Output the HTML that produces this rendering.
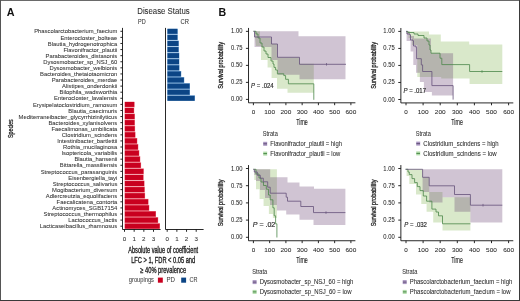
<!DOCTYPE html>
<html><head><meta charset="utf-8"><style>
html,body{margin:0;padding:0;background:#fff;}
body{width:520px;height:301px;overflow:hidden;position:relative;}
svg{display:block;font-family:"Liberation Sans", sans-serif;filter:blur(0.25px);}
.b{position:absolute;}
</style></head><body>
<svg width="520" height="301" viewBox="0 0 520 301">
<rect x="0" y="0" width="520" height="301" fill="#fff"/>
<text x="6.7" y="15.6" font-size="10.8" fill="#111" font-weight="bold">A</text>
<text x="163.5" y="13.6" font-size="8.4" fill="#2a2a2a" text-anchor="middle" textLength="52.5" lengthAdjust="spacingAndGlyphs" stroke="#2a2a2a" stroke-width="0.06">Disease Status</text>
<text x="141.8" y="24.0" font-size="6.3" fill="#333" text-anchor="middle" textLength="7.6" lengthAdjust="spacingAndGlyphs" stroke="#333" stroke-width="0.06">PD</text>
<text x="184.7" y="24.0" font-size="6.3" fill="#333" text-anchor="middle" textLength="8.4" lengthAdjust="spacingAndGlyphs" stroke="#333" stroke-width="0.06">CR</text>
<text x="117.3" y="33.45" font-size="6.2" fill="#333" stroke="#333" stroke-width="0.06" text-anchor="end" textLength="83.11" lengthAdjust="spacingAndGlyphs">Phascolarctobacterium_faecium</text>
<line x1="120.4" y1="31.30" x2="122.5" y2="31.30" stroke="#111" stroke-width="0.9"/>
<text x="117.3" y="39.54" font-size="6.2" fill="#333" stroke="#333" stroke-width="0.06" text-anchor="end" textLength="56.82" lengthAdjust="spacingAndGlyphs">Enterocloster_bolteae</text>
<line x1="120.4" y1="37.39" x2="122.5" y2="37.39" stroke="#111" stroke-width="0.9"/>
<text x="117.3" y="45.63" font-size="6.2" fill="#333" stroke="#333" stroke-width="0.06" text-anchor="end" textLength="69.49" lengthAdjust="spacingAndGlyphs">Blautia_hydrogenotrophica</text>
<line x1="120.4" y1="43.48" x2="122.5" y2="43.48" stroke="#111" stroke-width="0.9"/>
<text x="117.3" y="51.72" font-size="6.2" fill="#333" stroke="#333" stroke-width="0.06" text-anchor="end" textLength="53.89" lengthAdjust="spacingAndGlyphs">Flavonifractor_plautii</text>
<line x1="120.4" y1="49.57" x2="122.5" y2="49.57" stroke="#111" stroke-width="0.9"/>
<text x="117.3" y="57.81" font-size="6.2" fill="#333" stroke="#333" stroke-width="0.06" text-anchor="end" textLength="71.76" lengthAdjust="spacingAndGlyphs">Parabacteroides_distasonis</text>
<line x1="120.4" y1="55.66" x2="122.5" y2="55.66" stroke="#111" stroke-width="0.9"/>
<text x="117.3" y="63.90" font-size="6.2" fill="#333" stroke="#333" stroke-width="0.06" text-anchor="end" textLength="74.02" lengthAdjust="spacingAndGlyphs">Dysosmobacter_sp_NSJ_60</text>
<line x1="120.4" y1="61.75" x2="122.5" y2="61.75" stroke="#111" stroke-width="0.9"/>
<text x="117.3" y="69.99" font-size="6.2" fill="#333" stroke="#333" stroke-width="0.06" text-anchor="end" textLength="67.85" lengthAdjust="spacingAndGlyphs">Dysosmobacter_welbionis</text>
<line x1="120.4" y1="67.84" x2="122.5" y2="67.84" stroke="#111" stroke-width="0.9"/>
<text x="117.3" y="76.08" font-size="6.2" fill="#333" stroke="#333" stroke-width="0.06" text-anchor="end" textLength="77.28" lengthAdjust="spacingAndGlyphs">Bacteroides_thetaiotaomicron</text>
<line x1="120.4" y1="73.93" x2="122.5" y2="73.93" stroke="#111" stroke-width="0.9"/>
<text x="117.3" y="82.17" font-size="6.2" fill="#333" stroke="#333" stroke-width="0.06" text-anchor="end" textLength="65.59" lengthAdjust="spacingAndGlyphs">Parabacteroides_merdae</text>
<line x1="120.4" y1="80.02" x2="122.5" y2="80.02" stroke="#111" stroke-width="0.9"/>
<text x="117.3" y="88.26" font-size="6.2" fill="#333" stroke="#333" stroke-width="0.06" text-anchor="end" textLength="55.20" lengthAdjust="spacingAndGlyphs">Alistipes_onderdonkii</text>
<line x1="120.4" y1="86.11" x2="122.5" y2="86.11" stroke="#111" stroke-width="0.9"/>
<text x="117.3" y="94.35" font-size="6.2" fill="#333" stroke="#333" stroke-width="0.06" text-anchor="end" textLength="57.79" lengthAdjust="spacingAndGlyphs">Bilophila_wadsworthia</text>
<line x1="120.4" y1="92.20" x2="122.5" y2="92.20" stroke="#111" stroke-width="0.9"/>
<text x="117.3" y="100.44" font-size="6.2" fill="#333" stroke="#333" stroke-width="0.06" text-anchor="end" textLength="63.31" lengthAdjust="spacingAndGlyphs">Enterocloster_lavalensis</text>
<line x1="120.4" y1="98.29" x2="122.5" y2="98.29" stroke="#111" stroke-width="0.9"/>
<text x="117.3" y="106.53" font-size="6.2" fill="#333" stroke="#333" stroke-width="0.06" text-anchor="end" textLength="84.40" lengthAdjust="spacingAndGlyphs">Erysipelatoclostridium_ramosum</text>
<line x1="120.4" y1="104.38" x2="122.5" y2="104.38" stroke="#111" stroke-width="0.9"/>
<text x="117.3" y="112.62" font-size="6.2" fill="#333" stroke="#333" stroke-width="0.06" text-anchor="end" textLength="49.02" lengthAdjust="spacingAndGlyphs">Blautia_caecimuris</text>
<line x1="120.4" y1="110.47" x2="122.5" y2="110.47" stroke="#111" stroke-width="0.9"/>
<text x="117.3" y="118.71" font-size="6.2" fill="#333" stroke="#333" stroke-width="0.06" text-anchor="end" textLength="98.68" lengthAdjust="spacingAndGlyphs">Mediterraneibacter_glycyrrhizinilyticus</text>
<line x1="120.4" y1="116.56" x2="122.5" y2="116.56" stroke="#111" stroke-width="0.9"/>
<text x="117.3" y="124.80" font-size="6.2" fill="#333" stroke="#333" stroke-width="0.06" text-anchor="end" textLength="68.83" lengthAdjust="spacingAndGlyphs">Bacteroides_xylanisolvens</text>
<line x1="120.4" y1="122.65" x2="122.5" y2="122.65" stroke="#111" stroke-width="0.9"/>
<text x="117.3" y="130.89" font-size="6.2" fill="#333" stroke="#333" stroke-width="0.06" text-anchor="end" textLength="65.91" lengthAdjust="spacingAndGlyphs">Faecalimonas_umbilicata</text>
<line x1="120.4" y1="128.74" x2="122.5" y2="128.74" stroke="#111" stroke-width="0.9"/>
<text x="117.3" y="136.98" font-size="6.2" fill="#333" stroke="#333" stroke-width="0.06" text-anchor="end" textLength="55.51" lengthAdjust="spacingAndGlyphs">Clostridium_scindens</text>
<line x1="120.4" y1="134.83" x2="122.5" y2="134.83" stroke="#111" stroke-width="0.9"/>
<text x="117.3" y="143.07" font-size="6.2" fill="#333" stroke="#333" stroke-width="0.06" text-anchor="end" textLength="60.07" lengthAdjust="spacingAndGlyphs">Intestinibacter_bartlettii</text>
<line x1="120.4" y1="140.92" x2="122.5" y2="140.92" stroke="#111" stroke-width="0.9"/>
<text x="117.3" y="149.16" font-size="6.2" fill="#333" stroke="#333" stroke-width="0.06" text-anchor="end" textLength="54.22" lengthAdjust="spacingAndGlyphs">Rothia_mucilaginosa</text>
<line x1="120.4" y1="147.01" x2="122.5" y2="147.01" stroke="#111" stroke-width="0.9"/>
<text x="117.3" y="155.25" font-size="6.2" fill="#333" stroke="#333" stroke-width="0.06" text-anchor="end" textLength="55.84" lengthAdjust="spacingAndGlyphs">Isoptericola_variabilis</text>
<line x1="120.4" y1="153.10" x2="122.5" y2="153.10" stroke="#111" stroke-width="0.9"/>
<text x="117.3" y="161.34" font-size="6.2" fill="#333" stroke="#333" stroke-width="0.06" text-anchor="end" textLength="42.87" lengthAdjust="spacingAndGlyphs">Blautia_hansenii</text>
<line x1="120.4" y1="159.19" x2="122.5" y2="159.19" stroke="#111" stroke-width="0.9"/>
<text x="117.3" y="167.43" font-size="6.2" fill="#333" stroke="#333" stroke-width="0.06" text-anchor="end" textLength="57.46" lengthAdjust="spacingAndGlyphs">Bittarella_massiliensis</text>
<line x1="120.4" y1="165.28" x2="122.5" y2="165.28" stroke="#111" stroke-width="0.9"/>
<text x="117.3" y="173.52" font-size="6.2" fill="#333" stroke="#333" stroke-width="0.06" text-anchor="end" textLength="76.63" lengthAdjust="spacingAndGlyphs">Streptococcus_parasanguinis</text>
<line x1="120.4" y1="171.37" x2="122.5" y2="171.37" stroke="#111" stroke-width="0.9"/>
<text x="117.3" y="179.61" font-size="6.2" fill="#333" stroke="#333" stroke-width="0.06" text-anchor="end" textLength="49.03" lengthAdjust="spacingAndGlyphs">Eisenbergiella_tayi</text>
<line x1="120.4" y1="177.46" x2="122.5" y2="177.46" stroke="#111" stroke-width="0.9"/>
<text x="117.3" y="185.70" font-size="6.2" fill="#333" stroke="#333" stroke-width="0.06" text-anchor="end" textLength="64.61" lengthAdjust="spacingAndGlyphs">Streptococcus_salivarius</text>
<line x1="120.4" y1="183.55" x2="122.5" y2="183.55" stroke="#111" stroke-width="0.9"/>
<text x="117.3" y="191.79" font-size="6.2" fill="#333" stroke="#333" stroke-width="0.06" text-anchor="end" textLength="65.25" lengthAdjust="spacingAndGlyphs">Mogibacterium_diversum</text>
<line x1="120.4" y1="189.64" x2="122.5" y2="189.64" stroke="#111" stroke-width="0.9"/>
<text x="117.3" y="197.88" font-size="6.2" fill="#333" stroke="#333" stroke-width="0.06" text-anchor="end" textLength="71.43" lengthAdjust="spacingAndGlyphs">Adlercreutzia_equolifaciens</text>
<line x1="120.4" y1="195.73" x2="122.5" y2="195.73" stroke="#111" stroke-width="0.9"/>
<text x="117.3" y="203.97" font-size="6.2" fill="#333" stroke="#333" stroke-width="0.06" text-anchor="end" textLength="60.72" lengthAdjust="spacingAndGlyphs">Faecalicatena_contorta</text>
<line x1="120.4" y1="201.82" x2="122.5" y2="201.82" stroke="#111" stroke-width="0.9"/>
<text x="117.3" y="210.06" font-size="6.2" fill="#333" stroke="#333" stroke-width="0.06" text-anchor="end" textLength="64.94" lengthAdjust="spacingAndGlyphs">Actinomyces_SGB17154</text>
<line x1="120.4" y1="207.91" x2="122.5" y2="207.91" stroke="#111" stroke-width="0.9"/>
<text x="117.3" y="216.15" font-size="6.2" fill="#333" stroke="#333" stroke-width="0.06" text-anchor="end" textLength="73.70" lengthAdjust="spacingAndGlyphs">Streptococcus_thermophilus</text>
<line x1="120.4" y1="214.00" x2="122.5" y2="214.00" stroke="#111" stroke-width="0.9"/>
<text x="117.3" y="222.24" font-size="6.2" fill="#333" stroke="#333" stroke-width="0.06" text-anchor="end" textLength="49.03" lengthAdjust="spacingAndGlyphs">Lactococcus_lactis</text>
<line x1="120.4" y1="220.09" x2="122.5" y2="220.09" stroke="#111" stroke-width="0.9"/>
<text x="117.3" y="228.33" font-size="6.2" fill="#333" stroke="#333" stroke-width="0.06" text-anchor="end" textLength="77.60" lengthAdjust="spacingAndGlyphs">Lacticaseibacillus_rhamnosus</text>
<line x1="120.4" y1="226.18" x2="122.5" y2="226.18" stroke="#111" stroke-width="0.9"/>
<rect x="167.2" y="28.80" width="10.60" height="5.45" fill="#7eaedb"/>
<rect x="167.5" y="28.80" width="9.90" height="5.0" fill="#0c4585"/>
<rect x="167.2" y="34.44" width="10.60" height="5.90" fill="#7eaedb"/>
<rect x="167.5" y="34.89" width="9.90" height="5.0" fill="#0c4585"/>
<rect x="167.2" y="40.53" width="11.70" height="5.90" fill="#7eaedb"/>
<rect x="167.5" y="40.98" width="11.00" height="5.0" fill="#0c4585"/>
<rect x="167.2" y="46.62" width="11.70" height="5.90" fill="#7eaedb"/>
<rect x="167.5" y="47.07" width="11.00" height="5.0" fill="#0c4585"/>
<rect x="167.2" y="52.71" width="12.20" height="5.90" fill="#7eaedb"/>
<rect x="167.5" y="53.16" width="11.50" height="5.0" fill="#0c4585"/>
<rect x="167.2" y="58.80" width="12.20" height="5.90" fill="#7eaedb"/>
<rect x="167.5" y="59.25" width="11.50" height="5.0" fill="#0c4585"/>
<rect x="167.2" y="64.89" width="12.30" height="5.90" fill="#7eaedb"/>
<rect x="167.5" y="65.34" width="11.60" height="5.0" fill="#0c4585"/>
<rect x="167.2" y="70.98" width="14.10" height="5.90" fill="#7eaedb"/>
<rect x="167.5" y="71.43" width="13.40" height="5.0" fill="#0c4585"/>
<rect x="167.2" y="77.07" width="17.10" height="5.90" fill="#7eaedb"/>
<rect x="167.5" y="77.52" width="16.40" height="5.0" fill="#0c4585"/>
<rect x="167.2" y="83.16" width="22.80" height="5.90" fill="#7eaedb"/>
<rect x="167.5" y="83.61" width="22.10" height="5.0" fill="#0c4585"/>
<rect x="167.2" y="89.25" width="22.80" height="5.90" fill="#7eaedb"/>
<rect x="167.5" y="89.70" width="22.10" height="5.0" fill="#0c4585"/>
<rect x="167.2" y="95.34" width="27.80" height="5.45" fill="#7eaedb"/>
<rect x="167.5" y="95.79" width="27.10" height="5.0" fill="#0c4585"/>
<rect x="124.6" y="101.88" width="10.00" height="5.45" fill="#f07c8a"/>
<rect x="124.9" y="101.88" width="9.30" height="5.0" fill="#c9001f"/>
<rect x="124.6" y="107.52" width="9.60" height="5.90" fill="#f07c8a"/>
<rect x="124.9" y="107.97" width="8.90" height="5.0" fill="#c9001f"/>
<rect x="124.6" y="113.61" width="10.30" height="5.90" fill="#f07c8a"/>
<rect x="124.9" y="114.06" width="9.60" height="5.0" fill="#c9001f"/>
<rect x="124.6" y="119.70" width="10.30" height="5.90" fill="#f07c8a"/>
<rect x="124.9" y="120.15" width="9.60" height="5.0" fill="#c9001f"/>
<rect x="124.6" y="125.79" width="10.50" height="5.90" fill="#f07c8a"/>
<rect x="124.9" y="126.24" width="9.80" height="5.0" fill="#c9001f"/>
<rect x="124.6" y="131.88" width="10.90" height="5.90" fill="#f07c8a"/>
<rect x="124.9" y="132.33" width="10.20" height="5.0" fill="#c9001f"/>
<rect x="124.6" y="137.97" width="12.70" height="5.90" fill="#f07c8a"/>
<rect x="124.9" y="138.42" width="12.00" height="5.0" fill="#c9001f"/>
<rect x="124.6" y="144.06" width="13.70" height="5.90" fill="#f07c8a"/>
<rect x="124.9" y="144.51" width="13.00" height="5.0" fill="#c9001f"/>
<rect x="124.6" y="150.15" width="14.70" height="5.90" fill="#f07c8a"/>
<rect x="124.9" y="150.60" width="14.00" height="5.0" fill="#c9001f"/>
<rect x="124.6" y="156.24" width="15.70" height="5.90" fill="#f07c8a"/>
<rect x="124.9" y="156.69" width="15.00" height="5.0" fill="#c9001f"/>
<rect x="124.6" y="162.33" width="16.50" height="5.90" fill="#f07c8a"/>
<rect x="124.9" y="162.78" width="15.80" height="5.0" fill="#c9001f"/>
<rect x="124.6" y="168.42" width="19.20" height="5.90" fill="#f07c8a"/>
<rect x="124.9" y="168.87" width="18.50" height="5.0" fill="#c9001f"/>
<rect x="124.6" y="174.51" width="19.00" height="5.90" fill="#f07c8a"/>
<rect x="124.9" y="174.96" width="18.30" height="5.0" fill="#c9001f"/>
<rect x="124.6" y="180.60" width="19.90" height="5.90" fill="#f07c8a"/>
<rect x="124.9" y="181.05" width="19.20" height="5.0" fill="#c9001f"/>
<rect x="124.6" y="186.69" width="20.20" height="5.90" fill="#f07c8a"/>
<rect x="124.9" y="187.14" width="19.50" height="5.0" fill="#c9001f"/>
<rect x="124.6" y="192.78" width="20.50" height="5.90" fill="#f07c8a"/>
<rect x="124.9" y="193.23" width="19.80" height="5.0" fill="#c9001f"/>
<rect x="124.6" y="198.87" width="23.90" height="5.90" fill="#f07c8a"/>
<rect x="124.9" y="199.32" width="23.20" height="5.0" fill="#c9001f"/>
<rect x="124.6" y="204.96" width="24.70" height="5.90" fill="#f07c8a"/>
<rect x="124.9" y="205.41" width="24.00" height="5.0" fill="#c9001f"/>
<rect x="124.6" y="211.05" width="31.40" height="5.90" fill="#f07c8a"/>
<rect x="124.9" y="211.50" width="30.70" height="5.0" fill="#c9001f"/>
<rect x="124.6" y="217.14" width="33.60" height="5.90" fill="#f07c8a"/>
<rect x="124.9" y="217.59" width="32.90" height="5.0" fill="#c9001f"/>
<rect x="124.6" y="223.23" width="35.40" height="5.45" fill="#f07c8a"/>
<rect x="124.9" y="223.68" width="34.70" height="5.0" fill="#c9001f"/>
<path d="M122.5,27.9 V229.5 H160.6" fill="none" stroke="#111" stroke-width="0.9"/>
<line x1="124.50" y1="229.5" x2="124.50" y2="231.8" stroke="#111" stroke-width="0.9"/>
<text x="124.5" y="240.8" font-size="6.2" fill="#333" text-anchor="middle" stroke="#333" stroke-width="0.06">0</text>
<line x1="134.17" y1="229.5" x2="134.17" y2="231.8" stroke="#111" stroke-width="0.9"/>
<text x="134.17" y="240.8" font-size="6.2" fill="#333" text-anchor="middle" stroke="#333" stroke-width="0.06">1</text>
<line x1="143.84" y1="229.5" x2="143.84" y2="231.8" stroke="#111" stroke-width="0.9"/>
<text x="143.84" y="240.8" font-size="6.2" fill="#333" text-anchor="middle" stroke="#333" stroke-width="0.06">2</text>
<line x1="153.51" y1="229.5" x2="153.51" y2="231.8" stroke="#111" stroke-width="0.9"/>
<text x="153.51" y="240.8" font-size="6.2" fill="#333" text-anchor="middle" stroke="#333" stroke-width="0.06">3</text>
<path d="M165.5,27.9 V229.5 H203.6" fill="none" stroke="#111" stroke-width="0.9"/>
<line x1="167.20" y1="229.5" x2="167.20" y2="231.8" stroke="#111" stroke-width="0.9"/>
<text x="167.2" y="240.8" font-size="6.2" fill="#333" text-anchor="middle" stroke="#333" stroke-width="0.06">0</text>
<line x1="176.87" y1="229.5" x2="176.87" y2="231.8" stroke="#111" stroke-width="0.9"/>
<text x="176.87" y="240.8" font-size="6.2" fill="#333" text-anchor="middle" stroke="#333" stroke-width="0.06">1</text>
<line x1="186.54" y1="229.5" x2="186.54" y2="231.8" stroke="#111" stroke-width="0.9"/>
<text x="186.54" y="240.8" font-size="6.2" fill="#333" text-anchor="middle" stroke="#333" stroke-width="0.06">2</text>
<line x1="196.21" y1="229.5" x2="196.21" y2="231.8" stroke="#111" stroke-width="0.9"/>
<text x="196.21" y="240.8" font-size="6.2" fill="#333" text-anchor="middle" stroke="#333" stroke-width="0.06">3</text>
<text x="0" y="0" font-size="7.0" fill="#222" stroke="#222" stroke-width="0.28" text-anchor="middle" textLength="18.6" lengthAdjust="spacingAndGlyphs" transform="translate(13.0 128.6) rotate(-90)">Species</text>
<text x="163.2" y="253.2" font-size="8.2" fill="#222" stroke="#222" stroke-width="0.32" text-anchor="middle" textLength="70" lengthAdjust="spacingAndGlyphs">Absolute value of coefficient</text>
<text x="163.2" y="263.2" font-size="8.2" fill="#222" stroke="#222" stroke-width="0.32" text-anchor="middle" textLength="64" lengthAdjust="spacingAndGlyphs">LFC &gt; 1, FDR &lt; 0.05 and</text>
<text x="163.2" y="273.2" font-size="8.2" fill="#222" stroke="#222" stroke-width="0.32" text-anchor="middle" textLength="45.8" lengthAdjust="spacingAndGlyphs">≥ 40% prevalence</text>
<text x="128.8" y="282.3" font-size="6.3" fill="#444" textLength="25.2" lengthAdjust="spacingAndGlyphs" stroke="#444" stroke-width="0.06">groupings</text>
<rect x="157.9" y="277.6" width="4.9" height="5.1" fill="#c9001f"/>
<text x="166.4" y="282.3" font-size="6.3" fill="#444" textLength="8.5" lengthAdjust="spacingAndGlyphs" stroke="#444" stroke-width="0.06">PD</text>
<rect x="181.2" y="277.6" width="4.9" height="5.1" fill="#0c4585"/>
<text x="189.5" y="282.3" font-size="6.3" fill="#444" textLength="8.0" lengthAdjust="spacingAndGlyphs" stroke="#444" stroke-width="0.06">CR</text>
<text x="218.5" y="15.8" font-size="10.6" fill="#111" font-weight="bold">B</text>
<path d="M254.5,31.3 H260 V38 H271.5 V44 H277.5 V57.4 H299.5 V63.8 H313.8 V92.7 H287.5 V88.8 H277 V78 H271.6 V67.5 H267.6 V60 H261 V46 H256 Z" fill="rgba(128,178,78,0.30)"/>
<path d="M254.5,31.3 H298.5 V36.2 H345.5 V79.3 H299.5 V74.7 H277.5 V60 H271.5 V47 H254.5 Z" fill="rgba(98,58,110,0.30)"/>
<path d="M253.5,31.3 H256 V34 H258 V38 H260 V43 H262 V47 H264 V51 H266 V54 H268 V57.5 H271 V61 H273 V64 H274 V67.4 H275.6 V70 H277.4 V73.8 H283.8 V75.6 H285.6 V79.3 H288.4 V83.8 H313.8 V99.8" fill="none" stroke="#4b874a" stroke-width="0.8"/>
<path d="M253.5,31.3 H254.5 V37 H271.5 V44 H277.5 V57.3 H299.5 V64.3 H346" fill="none" stroke="#64527a" stroke-width="0.8"/>
<line x1="326.5" y1="63.0" x2="326.5" y2="65.6" stroke="#64527a" stroke-width="0.7"/>
<path d="M248.53,27.95 V102.80 H355.40" fill="none" stroke="#111" stroke-width="0.9"/>
<line x1="245.93" y1="99.40" x2="248.53" y2="99.40" stroke="#111" stroke-width="0.9"/>
<text x="242.43" y="101.4" font-size="6.5" fill="#2a2a2a" text-anchor="end" textLength="11.4" lengthAdjust="spacingAndGlyphs" stroke="#2a2a2a" stroke-width="0.06">0.00</text>
<line x1="245.93" y1="82.39" x2="248.53" y2="82.39" stroke="#111" stroke-width="0.9"/>
<text x="242.43" y="84.39" font-size="6.5" fill="#2a2a2a" text-anchor="end" textLength="11.4" lengthAdjust="spacingAndGlyphs" stroke="#2a2a2a" stroke-width="0.06">0.25</text>
<line x1="245.93" y1="65.38" x2="248.53" y2="65.38" stroke="#111" stroke-width="0.9"/>
<text x="242.43" y="67.38" font-size="6.5" fill="#2a2a2a" text-anchor="end" textLength="11.4" lengthAdjust="spacingAndGlyphs" stroke="#2a2a2a" stroke-width="0.06">0.50</text>
<line x1="245.93" y1="48.36" x2="248.53" y2="48.36" stroke="#111" stroke-width="0.9"/>
<text x="242.43" y="50.36" font-size="6.5" fill="#2a2a2a" text-anchor="end" textLength="11.4" lengthAdjust="spacingAndGlyphs" stroke="#2a2a2a" stroke-width="0.06">0.75</text>
<line x1="245.93" y1="31.35" x2="248.53" y2="31.35" stroke="#111" stroke-width="0.9"/>
<text x="242.43" y="33.35" font-size="6.5" fill="#2a2a2a" text-anchor="end" textLength="11.4" lengthAdjust="spacingAndGlyphs" stroke="#2a2a2a" stroke-width="0.06">1.00</text>
<line x1="253.40" y1="102.80" x2="253.40" y2="105.20" stroke="#111" stroke-width="0.9"/>
<text x="253.4" y="113.7" font-size="6.1" fill="#2a2a2a" text-anchor="middle" textLength="3.5" lengthAdjust="spacingAndGlyphs" stroke="#2a2a2a" stroke-width="0.06">0</text>
<line x1="269.65" y1="102.80" x2="269.65" y2="105.20" stroke="#111" stroke-width="0.9"/>
<text x="269.65" y="113.7" font-size="6.1" fill="#2a2a2a" text-anchor="middle" textLength="10.8" lengthAdjust="spacingAndGlyphs" stroke="#2a2a2a" stroke-width="0.06">100</text>
<line x1="285.90" y1="102.80" x2="285.90" y2="105.20" stroke="#111" stroke-width="0.9"/>
<text x="285.9" y="113.7" font-size="6.1" fill="#2a2a2a" text-anchor="middle" textLength="10.8" lengthAdjust="spacingAndGlyphs" stroke="#2a2a2a" stroke-width="0.06">200</text>
<line x1="302.15" y1="102.80" x2="302.15" y2="105.20" stroke="#111" stroke-width="0.9"/>
<text x="302.15" y="113.7" font-size="6.1" fill="#2a2a2a" text-anchor="middle" textLength="10.8" lengthAdjust="spacingAndGlyphs" stroke="#2a2a2a" stroke-width="0.06">300</text>
<line x1="318.40" y1="102.80" x2="318.40" y2="105.20" stroke="#111" stroke-width="0.9"/>
<text x="318.4" y="113.7" font-size="6.1" fill="#2a2a2a" text-anchor="middle" textLength="10.8" lengthAdjust="spacingAndGlyphs" stroke="#2a2a2a" stroke-width="0.06">400</text>
<line x1="334.65" y1="102.80" x2="334.65" y2="105.20" stroke="#111" stroke-width="0.9"/>
<text x="334.65" y="113.7" font-size="6.1" fill="#2a2a2a" text-anchor="middle" textLength="10.8" lengthAdjust="spacingAndGlyphs" stroke="#2a2a2a" stroke-width="0.06">500</text>
<line x1="350.90" y1="102.80" x2="350.90" y2="105.20" stroke="#111" stroke-width="0.9"/>
<text x="350.9" y="113.7" font-size="6.1" fill="#2a2a2a" text-anchor="middle" textLength="10.8" lengthAdjust="spacingAndGlyphs" stroke="#2a2a2a" stroke-width="0.06">600</text>
<text x="301.96" y="125.40" font-size="8.8" fill="#222" stroke="#222" stroke-width="0.15" text-anchor="middle" textLength="11.5" lengthAdjust="spacingAndGlyphs">Time</text>
<text x="0" y="0" font-size="7.0" fill="#222" stroke="#222" stroke-width="0.28" text-anchor="middle" textLength="46.8" lengthAdjust="spacingAndGlyphs" transform="translate(223.33 65.38) rotate(-90)">Survival probability</text>
<text x="251.12" y="88.19" font-size="6.4" fill="#2a2a2a" stroke="#2a2a2a" stroke-width="0.16" textLength="22.6" lengthAdjust="spacingAndGlyphs"><tspan font-style="italic">P</tspan> = .024</text>
<text x="262.8" y="135.89999999999998" font-size="6.4" fill="#333" textLength="15" lengthAdjust="spacingAndGlyphs" stroke="#333" stroke-width="0.06">Strata</text>
<rect x="263.20" y="141.80" width="4" height="4" fill="#a996c0"/>
<line x1="263.40" y1="143.80" x2="267.00" y2="143.80" stroke="#64527a" stroke-width="1"/>
<text x="270.3" y="146.1" font-size="6.4" fill="#2a2a2a" textLength="71.6" lengthAdjust="spacingAndGlyphs" stroke="#2a2a2a" stroke-width="0.06">Flavonifractor_plautii = high</text>
<rect x="263.20" y="151.60" width="4" height="4" fill="#b2dcaa"/>
<line x1="263.40" y1="153.60" x2="267.00" y2="153.60" stroke="#4b874a" stroke-width="1"/>
<text x="270.3" y="155.9" font-size="6.4" fill="#2a2a2a" textLength="69.9" lengthAdjust="spacingAndGlyphs" stroke="#2a2a2a" stroke-width="0.06">Flavonifractor_plautii = low</text>
<path d="M406.6,31.4 H429 V34.5 H440.8 V41.4 H469.2 V44.5 H502.3 V84 H469.6 V78.5 H441.2 V77 H417.3 V44.9 H412 V38 H408.5 V34 H406.6 Z" fill="rgba(128,178,78,0.30)"/>
<path d="M406.6,31.4 H410 V36 H414 V38.5 H431 V53.2 H453.1 V95.4 H431.9 V92 H423.9 V82 H419.9 V72.8 H416 V64.9 H413.3 V51.6 H410.6 V41 H406.6 Z" fill="rgba(98,58,110,0.30)"/>
<path d="M406.1,31.4 H408 V32.5 H414 V34 H418 V35.5 H424 V38 H427 V41 H429 V45 H430 V50 H431 V53.2 H440 V58.2 H441.8 V64.6 H469.6 V71.5 H502.3" fill="none" stroke="#4b874a" stroke-width="0.8"/>
<line x1="482" y1="70.2" x2="482" y2="72.8" stroke="#4b874a" stroke-width="0.7"/>
<path d="M406.1,31.4 H407 V34 H410 V35 H410.5 V40 H413 V41 H413.5 V46 H416 V47.5 H416.6 V58.7 H421.3 V64.9 H422.6 V71.5 H431.9 V85.6 H453.1 V99.6" fill="none" stroke="#64527a" stroke-width="0.8"/>
<path d="M400.87,27.99 V102.91 H513.30" fill="none" stroke="#111" stroke-width="0.9"/>
<line x1="398.27" y1="99.50" x2="400.87" y2="99.50" stroke="#111" stroke-width="0.9"/>
<text x="394.77" y="101.5" font-size="6.5" fill="#2a2a2a" text-anchor="end" textLength="11.4" lengthAdjust="spacingAndGlyphs" stroke="#2a2a2a" stroke-width="0.06">0.00</text>
<line x1="398.27" y1="82.47" x2="400.87" y2="82.47" stroke="#111" stroke-width="0.9"/>
<text x="394.77" y="84.47" font-size="6.5" fill="#2a2a2a" text-anchor="end" textLength="11.4" lengthAdjust="spacingAndGlyphs" stroke="#2a2a2a" stroke-width="0.06">0.25</text>
<line x1="398.27" y1="65.45" x2="400.87" y2="65.45" stroke="#111" stroke-width="0.9"/>
<text x="394.77" y="67.45" font-size="6.5" fill="#2a2a2a" text-anchor="end" textLength="11.4" lengthAdjust="spacingAndGlyphs" stroke="#2a2a2a" stroke-width="0.06">0.50</text>
<line x1="398.27" y1="48.43" x2="400.87" y2="48.43" stroke="#111" stroke-width="0.9"/>
<text x="394.77" y="50.43" font-size="6.5" fill="#2a2a2a" text-anchor="end" textLength="11.4" lengthAdjust="spacingAndGlyphs" stroke="#2a2a2a" stroke-width="0.06">0.75</text>
<line x1="398.27" y1="31.40" x2="400.87" y2="31.40" stroke="#111" stroke-width="0.9"/>
<text x="394.77" y="33.4" font-size="6.5" fill="#2a2a2a" text-anchor="end" textLength="11.4" lengthAdjust="spacingAndGlyphs" stroke="#2a2a2a" stroke-width="0.06">1.00</text>
<line x1="406.00" y1="102.91" x2="406.00" y2="105.31" stroke="#111" stroke-width="0.9"/>
<text x="406.0" y="113.81" font-size="6.1" fill="#2a2a2a" text-anchor="middle" textLength="3.5" lengthAdjust="spacingAndGlyphs" stroke="#2a2a2a" stroke-width="0.06">0</text>
<line x1="423.10" y1="102.91" x2="423.10" y2="105.31" stroke="#111" stroke-width="0.9"/>
<text x="423.1" y="113.81" font-size="6.1" fill="#2a2a2a" text-anchor="middle" textLength="10.8" lengthAdjust="spacingAndGlyphs" stroke="#2a2a2a" stroke-width="0.06">100</text>
<line x1="440.20" y1="102.91" x2="440.20" y2="105.31" stroke="#111" stroke-width="0.9"/>
<text x="440.2" y="113.81" font-size="6.1" fill="#2a2a2a" text-anchor="middle" textLength="10.8" lengthAdjust="spacingAndGlyphs" stroke="#2a2a2a" stroke-width="0.06">200</text>
<line x1="457.30" y1="102.91" x2="457.30" y2="105.31" stroke="#111" stroke-width="0.9"/>
<text x="457.3" y="113.81" font-size="6.1" fill="#2a2a2a" text-anchor="middle" textLength="10.8" lengthAdjust="spacingAndGlyphs" stroke="#2a2a2a" stroke-width="0.06">300</text>
<line x1="474.40" y1="102.91" x2="474.40" y2="105.31" stroke="#111" stroke-width="0.9"/>
<text x="474.4" y="113.81" font-size="6.1" fill="#2a2a2a" text-anchor="middle" textLength="10.8" lengthAdjust="spacingAndGlyphs" stroke="#2a2a2a" stroke-width="0.06">400</text>
<line x1="491.50" y1="102.91" x2="491.50" y2="105.31" stroke="#111" stroke-width="0.9"/>
<text x="491.5" y="113.81" font-size="6.1" fill="#2a2a2a" text-anchor="middle" textLength="10.8" lengthAdjust="spacingAndGlyphs" stroke="#2a2a2a" stroke-width="0.06">500</text>
<line x1="508.60" y1="102.91" x2="508.60" y2="105.31" stroke="#111" stroke-width="0.9"/>
<text x="508.6" y="113.81" font-size="6.1" fill="#2a2a2a" text-anchor="middle" textLength="10.8" lengthAdjust="spacingAndGlyphs" stroke="#2a2a2a" stroke-width="0.06">600</text>
<text x="457.08" y="125.40" font-size="8.8" fill="#222" stroke="#222" stroke-width="0.15" text-anchor="middle" textLength="11.5" lengthAdjust="spacingAndGlyphs">Time</text>
<text x="0" y="0" font-size="7.0" fill="#222" stroke="#222" stroke-width="0.28" text-anchor="middle" textLength="46.8" lengthAdjust="spacingAndGlyphs" transform="translate(375.67 65.45) rotate(-90)">Survival probability</text>
<text x="403.47" y="92.88" font-size="6.4" fill="#2a2a2a" stroke="#2a2a2a" stroke-width="0.16" textLength="22.6" lengthAdjust="spacingAndGlyphs"><tspan font-style="italic">P</tspan> = .017</text>
<text x="415.8" y="135.7" font-size="6.4" fill="#333" textLength="15" lengthAdjust="spacingAndGlyphs" stroke="#333" stroke-width="0.06">Strata</text>
<rect x="416.20" y="141.60" width="4" height="4" fill="#a996c0"/>
<line x1="416.40" y1="143.60" x2="420.00" y2="143.60" stroke="#64527a" stroke-width="1"/>
<text x="423.3" y="145.9" font-size="6.4" fill="#2a2a2a" textLength="75.2" lengthAdjust="spacingAndGlyphs" stroke="#2a2a2a" stroke-width="0.06">Clostridium_scindens = high</text>
<rect x="416.20" y="151.40" width="4" height="4" fill="#b2dcaa"/>
<line x1="416.40" y1="153.40" x2="420.00" y2="153.40" stroke="#4b874a" stroke-width="1"/>
<text x="423.3" y="155.7" font-size="6.4" fill="#2a2a2a" textLength="73.4" lengthAdjust="spacingAndGlyphs" stroke="#2a2a2a" stroke-width="0.06">Clostridium_scindens = low</text>
<path d="M254.3,169.3 H276.9 V218 H272.9 V214 H268.9 V206 H263.6 V199 H259.6 V189.2 H256 V180 H254.3 Z" fill="rgba(128,178,78,0.30)"/>
<path d="M254.3,169.3 H270.2 V177.3 H287.5 V182.6 H299.5 V186.6 H314 V188.7 H345.4 V225.1 H313.5 V219.8 H299.5 V214.5 H286.2 V210.5 H276.9 V205 H270 V198 H265 V190 H260 V181 H256 V175 H254.3 Z" fill="rgba(98,58,110,0.30)"/>
<path d="M253.4,169.3 H256 V174 H259 V178 H261 V182 H263.5 V185.5 H266.3 V189.2 H268.5 V195 H270.2 V199.8 H272.9 V207.8 H274.2 V215.8 H275.6 V223.8 H276.9 V237.5" fill="none" stroke="#4b874a" stroke-width="0.8"/>
<path d="M253.4,169.3 H254.3 V172 H257.3 V175.3 H260.3 V178.2 H263.3 V181.8 H267.7 V187.2 H270.2 V193.2 H286.2 V197.2 H287.5 V201.2 H300.8 V206.5 H313.5 V212.6 H345.4" fill="none" stroke="#64527a" stroke-width="0.8"/>
<line x1="326" y1="211.29999999999998" x2="326" y2="213.9" stroke="#64527a" stroke-width="0.7"/>
<path d="M248.53,165.06 V240.74 H355.40" fill="none" stroke="#111" stroke-width="0.9"/>
<line x1="245.93" y1="237.30" x2="248.53" y2="237.30" stroke="#111" stroke-width="0.9"/>
<text x="242.43" y="239.3" font-size="6.5" fill="#2a2a2a" text-anchor="end" textLength="11.4" lengthAdjust="spacingAndGlyphs" stroke="#2a2a2a" stroke-width="0.06">0.00</text>
<line x1="245.93" y1="220.10" x2="248.53" y2="220.10" stroke="#111" stroke-width="0.9"/>
<text x="242.43" y="222.1" font-size="6.5" fill="#2a2a2a" text-anchor="end" textLength="11.4" lengthAdjust="spacingAndGlyphs" stroke="#2a2a2a" stroke-width="0.06">0.25</text>
<line x1="245.93" y1="202.90" x2="248.53" y2="202.90" stroke="#111" stroke-width="0.9"/>
<text x="242.43" y="204.9" font-size="6.5" fill="#2a2a2a" text-anchor="end" textLength="11.4" lengthAdjust="spacingAndGlyphs" stroke="#2a2a2a" stroke-width="0.06">0.50</text>
<line x1="245.93" y1="185.70" x2="248.53" y2="185.70" stroke="#111" stroke-width="0.9"/>
<text x="242.43" y="187.7" font-size="6.5" fill="#2a2a2a" text-anchor="end" textLength="11.4" lengthAdjust="spacingAndGlyphs" stroke="#2a2a2a" stroke-width="0.06">0.75</text>
<line x1="245.93" y1="168.50" x2="248.53" y2="168.50" stroke="#111" stroke-width="0.9"/>
<text x="242.43" y="170.5" font-size="6.5" fill="#2a2a2a" text-anchor="end" textLength="11.4" lengthAdjust="spacingAndGlyphs" stroke="#2a2a2a" stroke-width="0.06">1.00</text>
<line x1="253.40" y1="240.74" x2="253.40" y2="243.14" stroke="#111" stroke-width="0.9"/>
<text x="253.4" y="251.64" font-size="6.1" fill="#2a2a2a" text-anchor="middle" textLength="3.5" lengthAdjust="spacingAndGlyphs" stroke="#2a2a2a" stroke-width="0.06">0</text>
<line x1="269.65" y1="240.74" x2="269.65" y2="243.14" stroke="#111" stroke-width="0.9"/>
<text x="269.65" y="251.64" font-size="6.1" fill="#2a2a2a" text-anchor="middle" textLength="10.8" lengthAdjust="spacingAndGlyphs" stroke="#2a2a2a" stroke-width="0.06">100</text>
<line x1="285.90" y1="240.74" x2="285.90" y2="243.14" stroke="#111" stroke-width="0.9"/>
<text x="285.9" y="251.64" font-size="6.1" fill="#2a2a2a" text-anchor="middle" textLength="10.8" lengthAdjust="spacingAndGlyphs" stroke="#2a2a2a" stroke-width="0.06">200</text>
<line x1="302.15" y1="240.74" x2="302.15" y2="243.14" stroke="#111" stroke-width="0.9"/>
<text x="302.15" y="251.64" font-size="6.1" fill="#2a2a2a" text-anchor="middle" textLength="10.8" lengthAdjust="spacingAndGlyphs" stroke="#2a2a2a" stroke-width="0.06">300</text>
<line x1="318.40" y1="240.74" x2="318.40" y2="243.14" stroke="#111" stroke-width="0.9"/>
<text x="318.4" y="251.64" font-size="6.1" fill="#2a2a2a" text-anchor="middle" textLength="10.8" lengthAdjust="spacingAndGlyphs" stroke="#2a2a2a" stroke-width="0.06">400</text>
<line x1="334.65" y1="240.74" x2="334.65" y2="243.14" stroke="#111" stroke-width="0.9"/>
<text x="334.65" y="251.64" font-size="6.1" fill="#2a2a2a" text-anchor="middle" textLength="10.8" lengthAdjust="spacingAndGlyphs" stroke="#2a2a2a" stroke-width="0.06">500</text>
<line x1="350.90" y1="240.74" x2="350.90" y2="243.14" stroke="#111" stroke-width="0.9"/>
<text x="350.9" y="251.64" font-size="6.1" fill="#2a2a2a" text-anchor="middle" textLength="10.8" lengthAdjust="spacingAndGlyphs" stroke="#2a2a2a" stroke-width="0.06">600</text>
<text x="301.96" y="263.20" font-size="8.8" fill="#222" stroke="#222" stroke-width="0.15" text-anchor="middle" textLength="11.5" lengthAdjust="spacingAndGlyphs">Time</text>
<text x="0" y="0" font-size="7.0" fill="#222" stroke="#222" stroke-width="0.28" text-anchor="middle" textLength="46.8" lengthAdjust="spacingAndGlyphs" transform="translate(223.33 202.90) rotate(-90)">Survival probability</text>
<text x="252.72" y="226.60" font-size="6.4" fill="#2a2a2a" stroke="#2a2a2a" stroke-width="0.16" textLength="22.6" lengthAdjust="spacingAndGlyphs"><tspan font-style="italic">P</tspan> = .02</text>
<text x="252.2" y="274.2" font-size="6.4" fill="#333" textLength="15" lengthAdjust="spacingAndGlyphs" stroke="#333" stroke-width="0.06">Strata</text>
<rect x="252.60" y="280.10" width="4" height="4" fill="#a996c0"/>
<line x1="252.80" y1="282.10" x2="256.40" y2="282.10" stroke="#64527a" stroke-width="1"/>
<text x="259.7" y="284.4" font-size="6.4" fill="#2a2a2a" textLength="93.6" lengthAdjust="spacingAndGlyphs" stroke="#2a2a2a" stroke-width="0.06">Dysosmobacter_sp_NSJ_60 = high</text>
<rect x="252.60" y="289.90" width="4" height="4" fill="#b2dcaa"/>
<line x1="252.80" y1="291.90" x2="256.40" y2="291.90" stroke="#4b874a" stroke-width="1"/>
<text x="259.7" y="294.2" font-size="6.4" fill="#2a2a2a" textLength="91.8" lengthAdjust="spacingAndGlyphs" stroke="#2a2a2a" stroke-width="0.06">Dysosmobacter_sp_NSJ_60 = low</text>
<path d="M406.6,169.3 H422.6 V177.3 H429.2 V191.9 H442.5 V197.2 H470.4 V230.4 H442.5 V222.4 H433.2 V211.8 H426.6 V203.9 H421.3 V194.6 H416 V184 H409.3 V176 H406.6 Z" fill="rgba(128,178,78,0.30)"/>
<path d="M422.6,169.3 H502.3 V222.4 H470.4 V211.8 H454.5 V197.2 H442.5 V202.5 H429.2 V191.9 H422.6 Z" fill="rgba(98,58,110,0.30)"/>
<path d="M405.6,169.3 H408 V172 H409.3 V174.6 H412 V178.6 H414.6 V182.6 H417.3 V186.6 H420 V190.6 H423.3 V196 H426.6 V201.2 H431.9 V209.1 H436 V212 H438.5 V215.8 H442.5 V223.8 H470.4" fill="none" stroke="#4b874a" stroke-width="0.8"/>
<path d="M405.6,169.3 H422.6 V177.3 H429.2 V185.8 H454.5 V194.5 H470.4 V205.2 H502.3" fill="none" stroke="#64527a" stroke-width="0.8"/>
<line x1="483" y1="203.89999999999998" x2="483" y2="206.5" stroke="#64527a" stroke-width="0.7"/>
<path d="M400.87,165.06 V240.74 H513.30" fill="none" stroke="#111" stroke-width="0.9"/>
<line x1="398.27" y1="237.30" x2="400.87" y2="237.30" stroke="#111" stroke-width="0.9"/>
<text x="394.77" y="239.3" font-size="6.5" fill="#2a2a2a" text-anchor="end" textLength="11.4" lengthAdjust="spacingAndGlyphs" stroke="#2a2a2a" stroke-width="0.06">0.00</text>
<line x1="398.27" y1="220.10" x2="400.87" y2="220.10" stroke="#111" stroke-width="0.9"/>
<text x="394.77" y="222.1" font-size="6.5" fill="#2a2a2a" text-anchor="end" textLength="11.4" lengthAdjust="spacingAndGlyphs" stroke="#2a2a2a" stroke-width="0.06">0.25</text>
<line x1="398.27" y1="202.90" x2="400.87" y2="202.90" stroke="#111" stroke-width="0.9"/>
<text x="394.77" y="204.9" font-size="6.5" fill="#2a2a2a" text-anchor="end" textLength="11.4" lengthAdjust="spacingAndGlyphs" stroke="#2a2a2a" stroke-width="0.06">0.50</text>
<line x1="398.27" y1="185.70" x2="400.87" y2="185.70" stroke="#111" stroke-width="0.9"/>
<text x="394.77" y="187.7" font-size="6.5" fill="#2a2a2a" text-anchor="end" textLength="11.4" lengthAdjust="spacingAndGlyphs" stroke="#2a2a2a" stroke-width="0.06">0.75</text>
<line x1="398.27" y1="168.50" x2="400.87" y2="168.50" stroke="#111" stroke-width="0.9"/>
<text x="394.77" y="170.5" font-size="6.5" fill="#2a2a2a" text-anchor="end" textLength="11.4" lengthAdjust="spacingAndGlyphs" stroke="#2a2a2a" stroke-width="0.06">1.00</text>
<line x1="406.00" y1="240.74" x2="406.00" y2="243.14" stroke="#111" stroke-width="0.9"/>
<text x="406.0" y="251.64" font-size="6.1" fill="#2a2a2a" text-anchor="middle" textLength="3.5" lengthAdjust="spacingAndGlyphs" stroke="#2a2a2a" stroke-width="0.06">0</text>
<line x1="423.10" y1="240.74" x2="423.10" y2="243.14" stroke="#111" stroke-width="0.9"/>
<text x="423.1" y="251.64" font-size="6.1" fill="#2a2a2a" text-anchor="middle" textLength="10.8" lengthAdjust="spacingAndGlyphs" stroke="#2a2a2a" stroke-width="0.06">100</text>
<line x1="440.20" y1="240.74" x2="440.20" y2="243.14" stroke="#111" stroke-width="0.9"/>
<text x="440.2" y="251.64" font-size="6.1" fill="#2a2a2a" text-anchor="middle" textLength="10.8" lengthAdjust="spacingAndGlyphs" stroke="#2a2a2a" stroke-width="0.06">200</text>
<line x1="457.30" y1="240.74" x2="457.30" y2="243.14" stroke="#111" stroke-width="0.9"/>
<text x="457.3" y="251.64" font-size="6.1" fill="#2a2a2a" text-anchor="middle" textLength="10.8" lengthAdjust="spacingAndGlyphs" stroke="#2a2a2a" stroke-width="0.06">300</text>
<line x1="474.40" y1="240.74" x2="474.40" y2="243.14" stroke="#111" stroke-width="0.9"/>
<text x="474.4" y="251.64" font-size="6.1" fill="#2a2a2a" text-anchor="middle" textLength="10.8" lengthAdjust="spacingAndGlyphs" stroke="#2a2a2a" stroke-width="0.06">400</text>
<line x1="491.50" y1="240.74" x2="491.50" y2="243.14" stroke="#111" stroke-width="0.9"/>
<text x="491.5" y="251.64" font-size="6.1" fill="#2a2a2a" text-anchor="middle" textLength="10.8" lengthAdjust="spacingAndGlyphs" stroke="#2a2a2a" stroke-width="0.06">500</text>
<line x1="508.60" y1="240.74" x2="508.60" y2="243.14" stroke="#111" stroke-width="0.9"/>
<text x="508.6" y="251.64" font-size="6.1" fill="#2a2a2a" text-anchor="middle" textLength="10.8" lengthAdjust="spacingAndGlyphs" stroke="#2a2a2a" stroke-width="0.06">600</text>
<text x="457.08" y="263.20" font-size="8.8" fill="#222" stroke="#222" stroke-width="0.15" text-anchor="middle" textLength="11.5" lengthAdjust="spacingAndGlyphs">Time</text>
<text x="0" y="0" font-size="7.0" fill="#222" stroke="#222" stroke-width="0.28" text-anchor="middle" textLength="46.8" lengthAdjust="spacingAndGlyphs" transform="translate(375.67 202.90) rotate(-90)">Survival probability</text>
<text x="404.37" y="226.60" font-size="6.4" fill="#2a2a2a" stroke="#2a2a2a" stroke-width="0.16" textLength="22.6" lengthAdjust="spacingAndGlyphs"><tspan font-style="italic">P</tspan> = .032</text>
<text x="402.3" y="274.2" font-size="6.4" fill="#333" textLength="15" lengthAdjust="spacingAndGlyphs" stroke="#333" stroke-width="0.06">Strata</text>
<rect x="402.70" y="280.10" width="4" height="4" fill="#a996c0"/>
<line x1="402.90" y1="282.10" x2="406.50" y2="282.10" stroke="#64527a" stroke-width="1"/>
<text x="409.8" y="284.4" font-size="6.4" fill="#2a2a2a" textLength="102.5" lengthAdjust="spacingAndGlyphs" stroke="#2a2a2a" stroke-width="0.06">Phascolarctobacterium_faecium = high</text>
<rect x="402.70" y="289.90" width="4" height="4" fill="#b2dcaa"/>
<line x1="402.90" y1="291.90" x2="406.50" y2="291.90" stroke="#4b874a" stroke-width="1"/>
<text x="409.8" y="294.2" font-size="6.4" fill="#2a2a2a" textLength="100.7" lengthAdjust="spacingAndGlyphs" stroke="#2a2a2a" stroke-width="0.06">Phascolarctobacterium_faecium = low</text>
</svg>
<div class="b" style="left:0;top:0;width:520px;height:1px;background:#6a6a6a"></div>
<div class="b" style="left:0;top:0;width:1px;height:301px;background:#555"></div>
<div class="b" style="left:519px;top:0;width:1px;height:301px;background:#3a3a3a"></div>
<div class="b" style="left:0;top:300px;width:520px;height:1px;background:#3a3a3a"></div>
</body></html>
